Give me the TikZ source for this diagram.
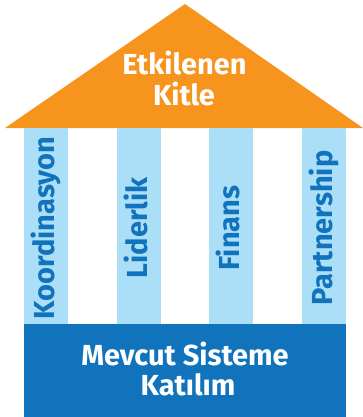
\documentclass[tikz,border=0pt]{standalone}
\usepackage{fontspec}
\setmainfont{Fira Sans}
\definecolor{roofc}{HTML}{F7941D}
\definecolor{pillarc}{HTML}{ABDFF8}
\definecolor{basec}{HTML}{1173BB}
\begin{document}
\begin{tikzpicture}[x=1pt,y=-1pt,
  ptext/.style={rotate=90,anchor=base,text=basec,font=\bfseries\fontsize{29}{29}\selectfont,inner sep=0pt},
  wtext/.style={anchor=base,text=white,font=\bfseries\fontsize{29}{31}\selectfont,inner sep=0pt}]
\useasboundingbox (0,0) rectangle (363,417);
\fill[roofc] (185,4) -- (363,128) -- (5,128) -- cycle;
\node[wtext] (roofa) at (184.5,75) {Etkilenen};
\node[wtext] (roofb) at (184,106) {Kitle};
\foreach \x/\n/\t in {24/p1/Koordinasyon,117/p2/Liderlik,209/p3/Finans,302/p4/Partnership}{
  \fill[pillarc] (\x,128) rectangle (\x+44,324);
  \node[ptext] (\n) at (\x+30.5,228) {\t};
}
\fill[basec] (24,324) rectangle (346,417);
\node[wtext] (basea) at (185,365) {Mevcut Sisteme};
\node[wtext] (baseb) at (188,395.5) {Katılım};
\end{tikzpicture}
\end{document}
